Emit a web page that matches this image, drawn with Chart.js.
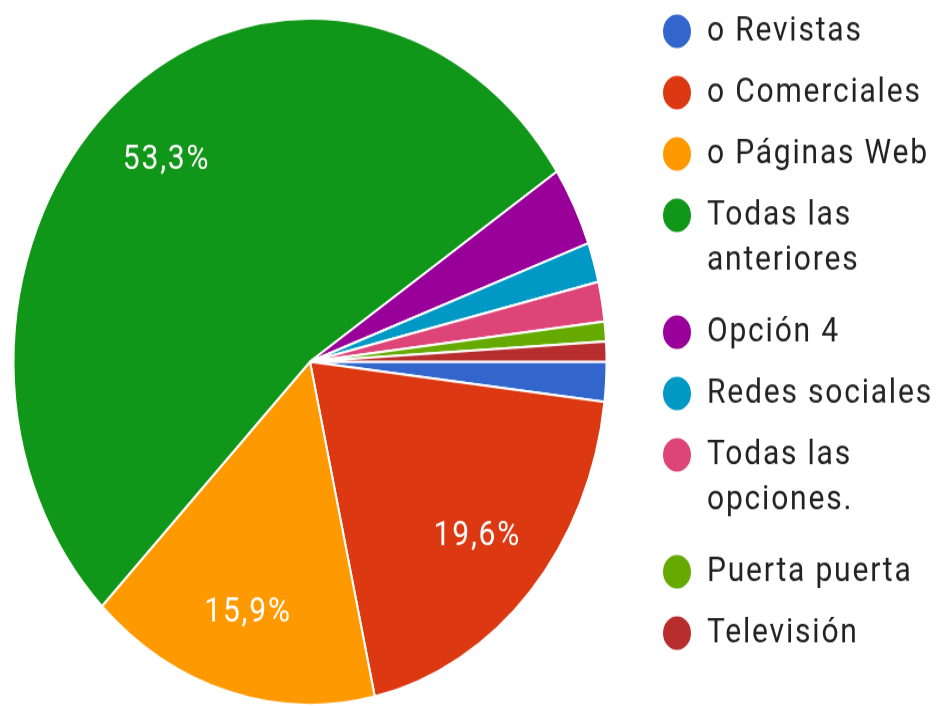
<!DOCTYPE html>
<html>
<head>
<meta charset="utf-8">
<script src="https://cdn.jsdelivr.net/npm/chart.js@4"></script>
<style>
    html, body { margin: 0; padding: 0; background: #fff; }
    #chart { display: block; }
</style>
</head>
<body>
<!-- the reference is stretched vertically, so the canvas is shown taller than it is drawn -->
<canvas id="chart" width="936" height="610" style="width: 936px; height: 706px;"></canvas>
<script>
const labels = [
    "o Revistas",
    "o Comerciales",
    "o Páginas Web",
    ["Todas las", "anteriores"],
    "Opción 4",
    "Redes sociales",
    ["Todas las", "opciones."],
    "Puerta puerta",
    "Televisión"
];
const counts = [2, 21, 17, 57, 4, 2, 2, 1, 1];
const colors = [
    "#3366cc", "#dc3912", "#ff9900", "#109618", "#990099",
    "#0099c6", "#dd4477", "#66aa00", "#b82e2e"
];

const labelPadding = 23;
const legendX = 662;
const legendY = 12;
const legendWidth = 328;

// places the legend column where the reference has it
const legendBox = {
    id: "legendBox",
    beforeLayout(chart) {
        const legend = chart.legend;
        if (!legend || legend._patched) return;
        const fit = legend.fit;
        legend.fit = function () {
            fit.call(this);
            this.width = legendWidth;
        };
        legend._patched = true;
    },
    afterLayout(chart) {
        const legend = chart.legend;
        legend.left = legendX - labelPadding;
        legend.right = chart.width;
        legend.top = legendY - labelPadding;
        legend.bottom = chart.height;
    },
    beforeDraw(chart) {
        // the reference text is set a little loose
        chart.ctx.letterSpacing = "1.8px";
    }
};

// percentage text inside the big slices
const sliceLabels = {
    id: "sliceLabels",
    afterDatasetsDraw(chart) {
        const ctx = chart.ctx;
        const data = chart.data.datasets[0].data;
        const total = data.reduce((a, b) => a + b, 0);
        ctx.save();
        ctx.font = "30px Roboto";
        ctx.fillStyle = "#ffffff";
        ctx.textAlign = "center";
        ctx.textBaseline = "middle";
        chart.getDatasetMeta(0).data.forEach((arc, i) => {
            const pct = data[i] / total;
            if (pct < 0.1) return;
            const mid = (arc.startAngle + arc.endAngle) / 2;
            const r = arc.outerRadius * 0.76;
            const text = (pct * 100).toFixed(1).replace(".", ",") + "%";
            ctx.fillText(text, arc.x + Math.cos(mid) * r, arc.y + Math.sin(mid) * r);
        });
        ctx.restore();
    }
};

new Chart(document.getElementById("chart"), {
    type: "pie",
    data: {
        labels: labels,
        datasets: [
            {
                data: counts,
                backgroundColor: colors,
                borderColor: "#ffffff",
                borderWidth: 2
            }
        ]
    },
    options: {
        responsive: false,
        animation: false,
        rotation: 90,
        layout: {
            padding: { left: 12, top: 15, right: 0, bottom: 0 }
        },
        plugins: {
            tooltip: { enabled: false },
            legend: {
                position: "right",
                align: "start",
                labels: {
                    usePointStyle: true,
                    pointStyle: "circle",
                    boxWidth: 30,
                    boxHeight: 22,
                    pointStyleWidth: 30,
                    padding: labelPadding,
                    color: "#222222",
                    font: { family: "Roboto", size: 30, lineHeight: 1.3 }
                }
            }
        }
    },
    plugins: [legendBox, sliceLabels]
});
</script>
</body>
</html>
